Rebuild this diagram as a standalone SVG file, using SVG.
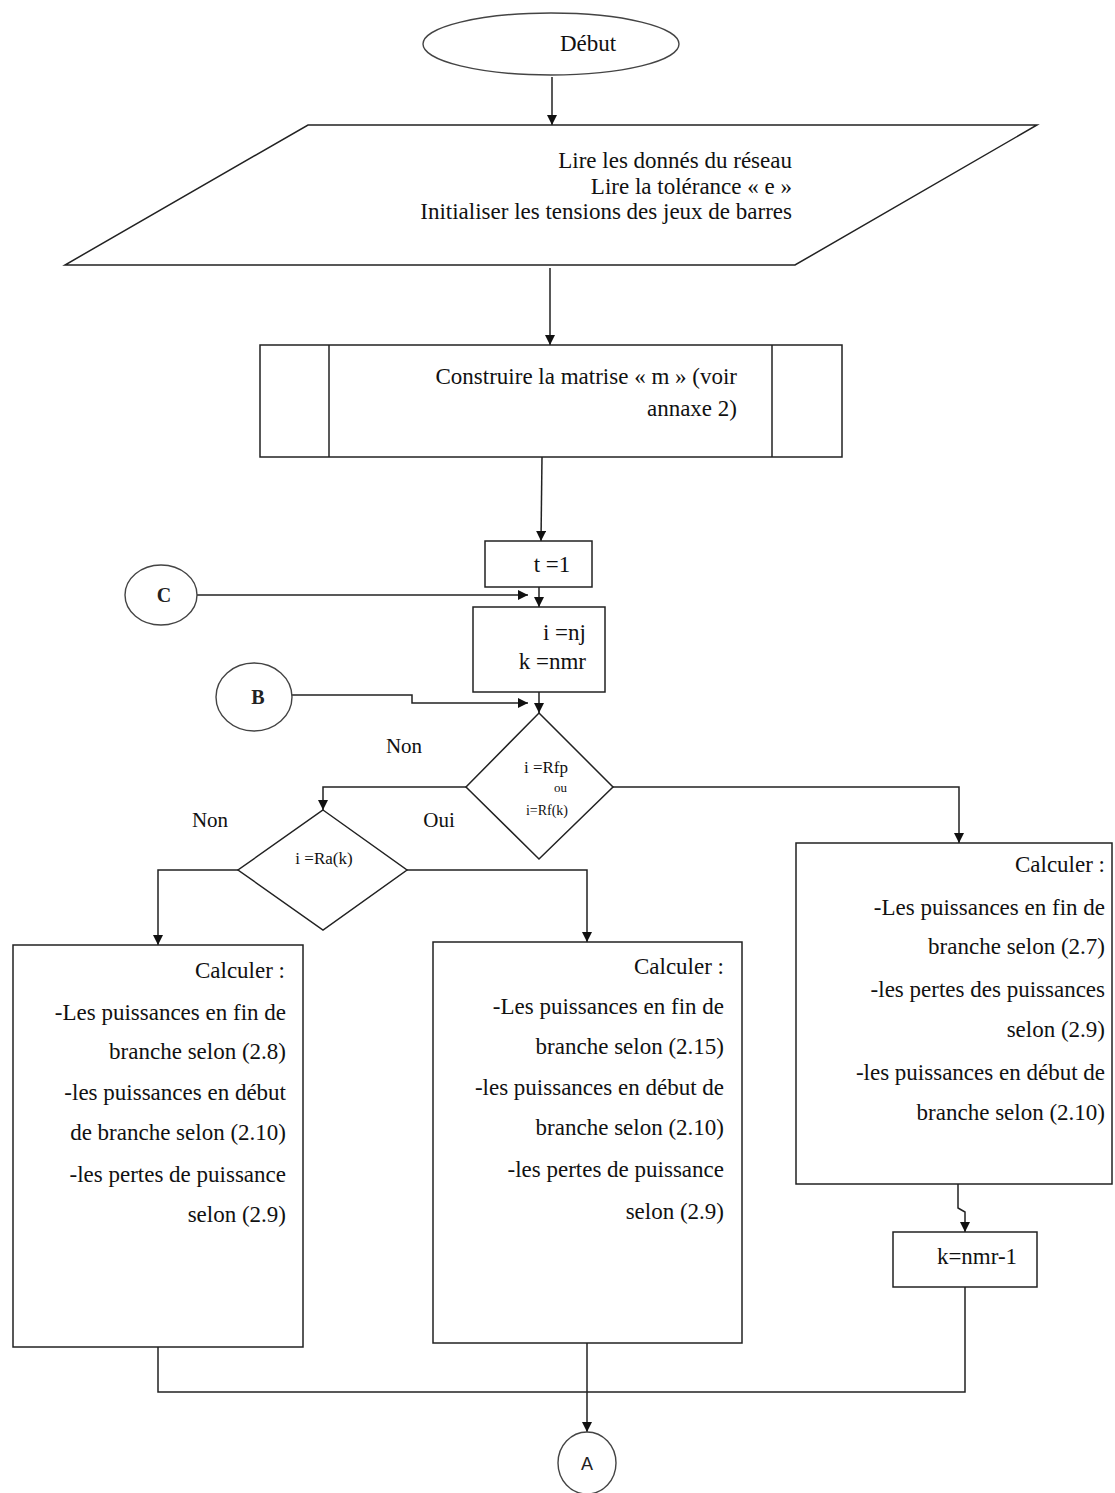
<svg xmlns="http://www.w3.org/2000/svg" width="1115" height="1493" viewBox="0 0 1115 1493">
  <defs>
    <marker id="arrow" viewBox="0 0 10 10" refX="10" refY="5" markerWidth="10" markerHeight="10" markerUnits="userSpaceOnUse" orient="auto">
      <path d="M0,0 L10,5 L0,10 Z" fill="#111"/>
    </marker>
    <style>
      .shape { fill: #fff; stroke: #222; stroke-width: 1.5; }
      .term { fill: #fff; stroke: #444; stroke-width: 1.4; }
      .edge { fill: none; stroke: #222; stroke-width: 1.5; }
      .edge-a { fill: none; stroke: #222; stroke-width: 1.5; marker-end: url(#arrow); }
      .t { font-family: "Liberation Serif", "Times New Roman", serif; font-size: 23px; fill: #111; }
      .r { text-anchor: end; }
      .m { text-anchor: middle; }
      .lbl { font-size: 21px; }
      .ref { font-family: "Liberation Serif", serif; font-size: 20px; font-weight: bold; fill: #222; text-anchor: middle; }
    </style>
  </defs>

  <rect width="1115" height="1493" fill="#fff"/>

  <!-- connectors -->
  <g id="connectors">
    <line class="edge-a" x1="552" y1="77" x2="552" y2="125"/>
    <line class="edge-a" x1="550" y1="268" x2="550" y2="345"/>
    <line class="edge-a" x1="542" y1="457" x2="541" y2="541"/>
    <line class="edge-a" x1="197" y1="595" x2="528" y2="595"/>
    <line class="edge-a" x1="539" y1="587" x2="539" y2="607"/>
    <polyline class="edge-a" points="291,695 412,695 412,703 528,703"/>
    <line class="edge-a" x1="539" y1="692" x2="539" y2="713"/>
    <!-- Non branch of the first test -->
    <polyline class="edge-a" points="466,787 323,787 323,810"/>
    <!-- Oui branch of the first test -->
    <polyline class="edge-a" points="613,787 959,787 959,843"/>
    <!-- branches of the second test -->
    <polyline class="edge-a" points="238,870 158,870 158,945"/>
    <polyline class="edge-a" points="407,870 587,870 587,942"/>
    <!-- right column -->
    <polyline class="edge-a" points="958,1184 958,1208 965,1212 965,1232"/>
    <!-- merge towards A -->
    <polyline class="edge" points="965,1287 965,1392 158,1392 158,1347"/>
    <line class="edge-a" x1="587" y1="1343" x2="587" y2="1432"/>
  </g>

  <!-- start -->
  <g id="debut">
    <ellipse class="term" cx="551" cy="44" rx="128" ry="31"/>
    <text class="t m" x="588" y="51">Début</text>
  </g>

  <!-- input data -->
  <g id="lecture">
    <polygon class="shape" points="308,125 1037,125 795,265 65,265"/>
    <text class="t r" x="792" y="168">Lire les donnés du réseau</text>
    <text class="t r" x="792" y="194">Lire la tolérance « e »</text>
    <text class="t r" x="792" y="219">Initialiser les tensions des jeux de barres</text>
  </g>

  <!-- predefined process -->
  <g id="matrice">
    <rect class="shape" x="260" y="345" width="582" height="112"/>
    <line class="edge" x1="329" y1="345" x2="329" y2="457"/>
    <line class="edge" x1="772" y1="345" x2="772" y2="457"/>
    <text class="t r" x="737" y="384">Construire la matrise « m » (voir</text>
    <text class="t r" x="737" y="416">annaxe 2)</text>
  </g>

  <g id="init-t">
    <rect class="shape" x="485" y="541" width="107" height="46"/>
    <text class="t m" x="552" y="572">t =1</text>
  </g>

  <g id="connecteur-c">
    <ellipse class="term" cx="161" cy="595" rx="36" ry="30"/>
    <text class="ref" x="164" y="602">C</text>
  </g>

  <g id="init-ik">
    <rect class="shape" x="473" y="607" width="132" height="85"/>
    <text class="t r" x="586" y="640">i =nj</text>
    <text class="t r" x="586" y="669">k =nmr</text>
  </g>

  <g id="connecteur-b">
    <ellipse class="term" cx="254" cy="697" rx="38" ry="34"/>
    <text class="ref" x="258" y="704">B</text>
  </g>

  <!-- first test -->
  <g id="test-rf">
    <polygon class="shape" points="539,713 613,787 539,859 466,787"/>
    <text class="t r" x="568" y="773" style="font-size:17px">i =Rfp</text>
    <text class="t r" x="567" y="792" style="font-size:13px">ou</text>
    <text class="t r" x="568" y="815" style="font-size:14px">i=Rf(k)</text>
  </g>

  <!-- second test -->
  <g id="test-ra">
    <polygon class="shape" points="323,810 407,870 323,930 238,870"/>
    <text class="t m" x="324" y="864" style="font-size:17px">i =Ra(k)</text>
  </g>

  <g id="labels">
    <text class="t m lbl" x="404" y="753">Non</text>
    <text class="t m lbl" x="210" y="827">Non</text>
    <text class="t m lbl" x="439" y="827">Oui</text>
  </g>

  <!-- computation boxes -->
  <g id="calcul-gauche">
    <rect class="shape" x="13" y="945" width="290" height="402"/>
    <text class="t r" x="285" y="978">Calculer :</text>
    <text class="t r" x="286" y="1020">-Les puissances en fin de</text>
    <text class="t r" x="286" y="1059">branche selon (2.8)</text>
    <text class="t r" x="286" y="1100">-les puissances en début</text>
    <text class="t r" x="286" y="1140">de branche selon (2.10)</text>
    <text class="t r" x="286" y="1182">-les pertes de puissance</text>
    <text class="t r" x="286" y="1222">selon (2.9)</text>
  </g>

  <g id="calcul-milieu">
    <rect class="shape" x="433" y="942" width="309" height="401"/>
    <text class="t r" x="724" y="974">Calculer :</text>
    <text class="t r" x="724" y="1014">-Les puissances en fin de</text>
    <text class="t r" x="724" y="1054">branche selon (2.15)</text>
    <text class="t r" x="724" y="1095">-les puissances en début de</text>
    <text class="t r" x="724" y="1135">branche selon (2.10)</text>
    <text class="t r" x="724" y="1177">-les pertes de puissance</text>
    <text class="t r" x="724" y="1219">selon (2.9)</text>
  </g>

  <g id="calcul-droite">
    <rect class="shape" x="796" y="843" width="316" height="341"/>
    <text class="t r" x="1105" y="872">Calculer :</text>
    <text class="t r" x="1105" y="915">-Les puissances en fin de</text>
    <text class="t r" x="1105" y="954">branche selon (2.7)</text>
    <text class="t r" x="1105" y="997">-les pertes des puissances</text>
    <text class="t r" x="1105" y="1037">selon (2.9)</text>
    <text class="t r" x="1105" y="1080">-les puissances en début de</text>
    <text class="t r" x="1105" y="1120">branche selon (2.10)</text>
  </g>

  <g id="decrement-k">
    <rect class="shape" x="893" y="1232" width="144" height="55"/>
    <text class="t m" x="977" y="1264">k=nmr-1</text>
  </g>

  <g id="connecteur-a">
    <ellipse class="term" cx="587" cy="1463" rx="29" ry="31"/>
    <text x="587" y="1470" text-anchor="middle" style="font-family:'Liberation Sans', Arial, sans-serif; font-size:18px; fill:#222">A</text>
  </g>
</svg>
